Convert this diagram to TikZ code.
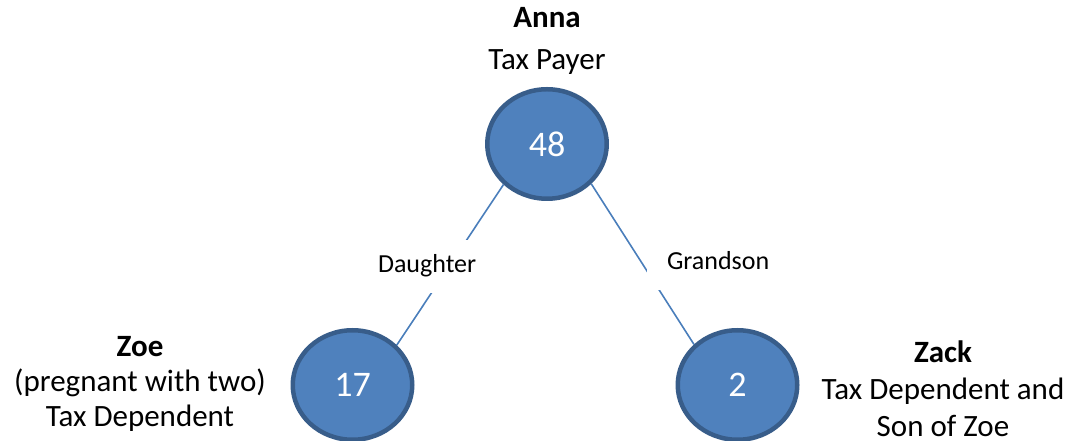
\documentclass[tikz,border=0pt]{standalone}
\usepackage{fontspec}
\setmainfont{Carlito}
\usetikzlibrary{shapes.geometric}
\definecolor{nodeblue}{HTML}{4F81BD}
\definecolor{rimblue}{HTML}{385D8A}
\definecolor{lineblue}{HTML}{4A7EBB}

\begin{document}
\begin{tikzpicture}[x=1pt, y=1pt,
	person/.style={ellipse, draw=rimblue, line width=4.5pt, fill=nodeblue, minimum width=119.5pt, minimum height=109.5pt, inner sep=0pt, text=white, font=\fontsize{36}{43}\selectfont},
	link/.style={draw=lineblue, line width=1.6pt},
	relation/.style={fill=white, inner xsep=20pt, inner ysep=14.5pt, text height=18pt, text depth=6pt, font=\fontsize{26}{31}\selectfont},
	caption/.style={align=center, anchor=base}]
	\useasboundingbox (0,0) rectangle (1070,441);

	% People
	\node[person] (anna) at (547,297) {48};
	\node[person] (zoe) at (352.5,56) {17};
	\node[person] (zack) at (737.5,56) {2};

	% Relations
	\draw[link] (anna.223) -- node[relation, xshift=-23pt, yshift=-1.5pt] (daughter) {Daughter} (zoe.42);
	\draw[link] (anna.318) -- node[relation, xshift=75.5pt, yshift=1pt] (grandson) {Grandson} (zack.137);

	% Captions (anchored at the last line)
	\node[caption, font=\fontsize{31}{42}\selectfont] (annatext) at (547,371) {\textbf{Anna}\\Tax Payer};
	\node[caption, font=\fontsize{31}{35}\selectfont] (zoetext) at (140,14) {\textbf{Zoe}\\(pregnant with two)\\Tax Dependent};
	\node[caption, font=\fontsize{31}{37}\selectfont] (zacktext) at (943,4) {\textbf{Zack}\\Tax Dependent and\\Son of Zoe};
\end{tikzpicture}
\end{document}
